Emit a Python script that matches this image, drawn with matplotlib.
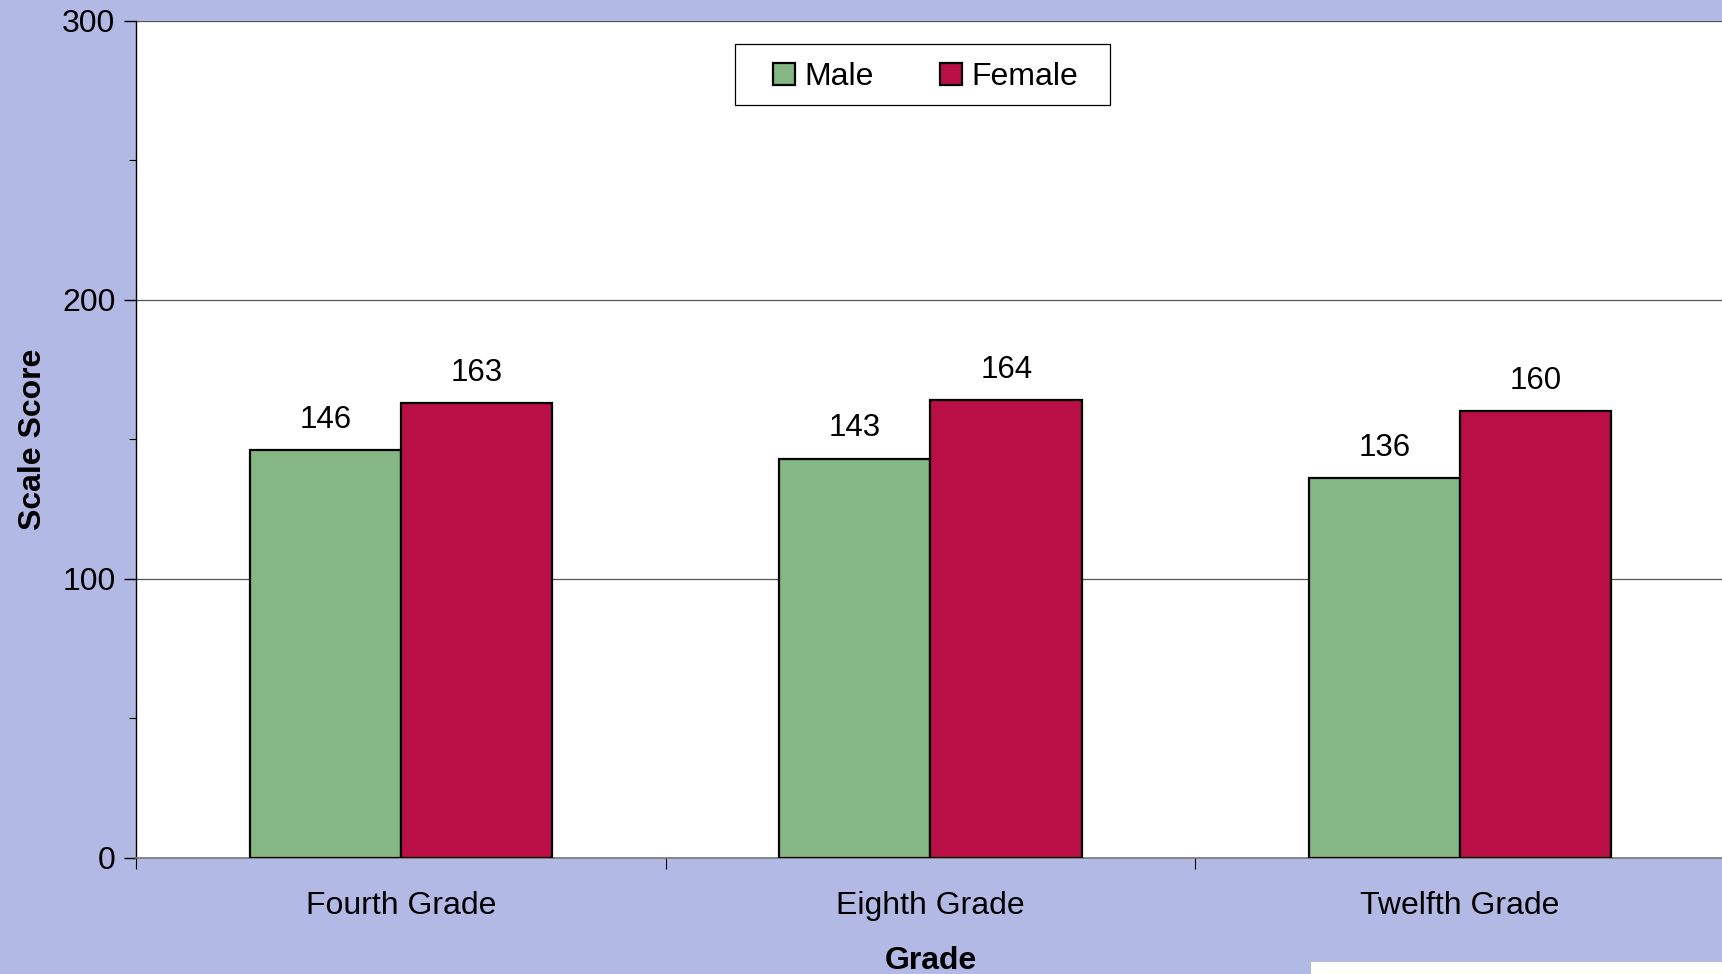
import matplotlib.pyplot as plt
import numpy as np
from matplotlib.patches import Rectangle
from matplotlib.ticker import MultipleLocator

# data
grades = ["Fourth Grade", "Eighth Grade", "Twelfth Grade"]
male = [146, 143, 136]
female = [163, 164, 160]

bg = "#B2B9E4"
green = "#84B784"
red = "#BA0E46"

plt.rcParams['font.family'] = ['Liberation Sans', 'DejaVu Sans']

fig = plt.figure(figsize=(17.22, 9.74), dpi=100, facecolor=bg)
ax = fig.add_axes([0.0791, 0.1195, 0.9225, 0.8591])
ax.set_facecolor("white")

x = np.arange(len(grades)) + 0.5
w = 0.286
b1 = ax.bar(x - w / 2, male, w, color=green, edgecolor="black", linewidth=1.6, label="Male", zorder=3)
b2 = ax.bar(x + w / 2, female, w, color=red, edgecolor="black", linewidth=1.6, label="Female", zorder=3)

for bars, vals in ((b1, male), (b2, female)):
    for r, v in zip(bars, vals):
        ax.annotate(str(v), (r.get_x() + r.get_width() / 2, v), xytext=(0, 11),
                    textcoords="offset points", ha="center", va="bottom", fontsize=22.5)

ax.set_xlim(0, 3)
ax.set_ylim(0, 300)
ax.set_xticks([0, 1, 2, 3])
ax.set_xticklabels([])
ax.set_xticks(x, minor=True)
ax.set_xticklabels(grades, minor=True, fontsize=23)
ax.tick_params(axis="x", which="major", length=8, width=0.8, direction="out")
ax.tick_params(axis="x", which="minor", length=0, pad=24)

ax.yaxis.set_major_locator(MultipleLocator(100))
ax.yaxis.set_minor_locator(MultipleLocator(50))
ax.tick_params(axis="y", which="major", length=9, width=1.0, labelsize=23, pad=6)
ax.tick_params(axis="y", which="minor", length=5, width=0.8)
ax.grid(axis="y", which="major", color="#555555", linewidth=0.9, zorder=0)

for s in ("top", "right"):
    ax.spines[s].set_visible(False)
ax.spines["left"].set_linewidth(1.0)
ax.spines["bottom"].set_color("#777777")
ax.spines["bottom"].set_linewidth(1.2)

ax.set_ylabel("Scale Score", fontsize=23, fontweight="bold", labelpad=10)
ax.set_xlabel("Grade", fontsize=23, fontweight="bold", labelpad=18)

# legend without its own frame; the box is drawn wider, as in the original
leg = fig.legend(handles=[b1, b2], loc="center", bbox_to_anchor=(0.5375, 0.9205), ncol=2,
                 fontsize=23, frameon=False, handlelength=0.7, handleheight=0.7,
                 handletextpad=0.3, columnspacing=2.05)
for h in leg.legend_handles:
    h.set_linewidth(1.6)
fig.patches.append(Rectangle((0.4267, 0.8918), 0.2181, 0.0631, transform=fig.transFigure,
                             facecolor="white", edgecolor="black", linewidth=0.9, zorder=5))
leg.set_zorder(6)

# white box cut off at bottom right of the picture
fig.patches.append(Rectangle((0.7613, 0.0), 0.25, 0.012, transform=fig.transFigure,
                             facecolor="white", edgecolor="none"))

fig.savefig("out.png", dpi=100, facecolor=bg)
